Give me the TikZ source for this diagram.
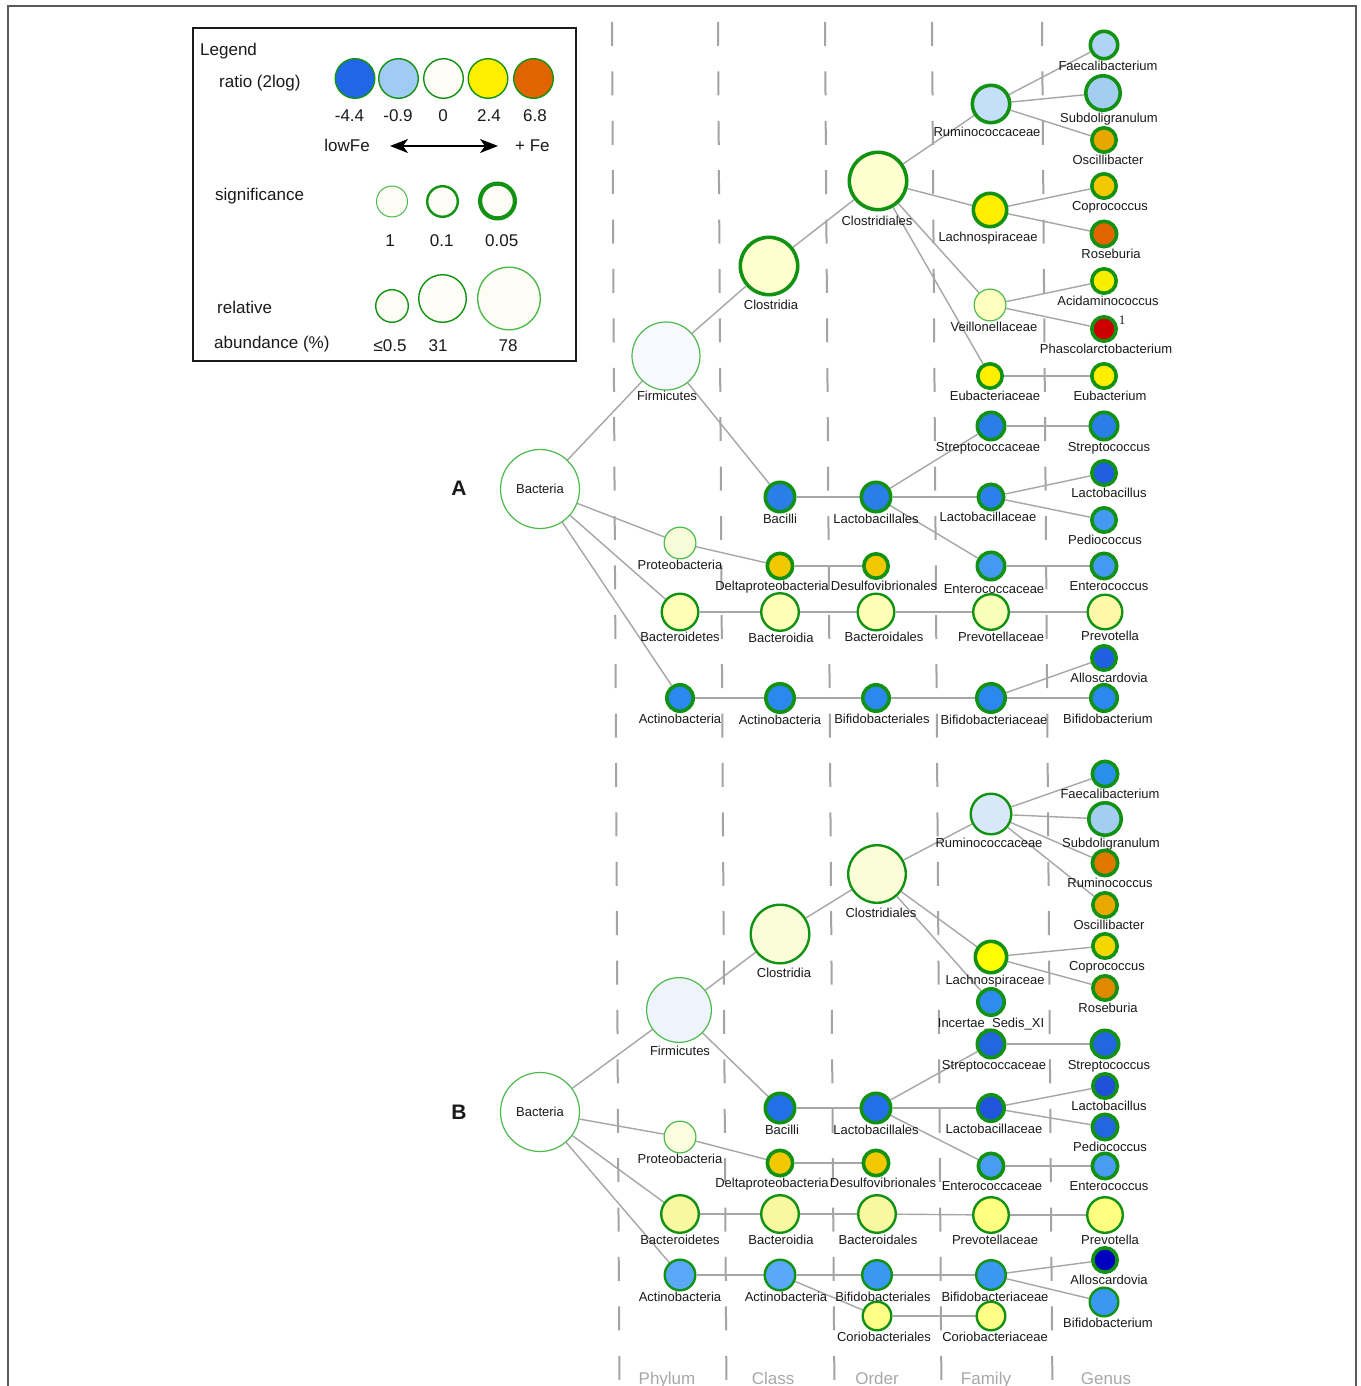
\documentclass[tikz,border=0pt]{standalone}
\usepackage{fontspec}
\setmainfont{Liberation Sans}
\newfontfamily\serifnum{Liberation Serif}
\usetikzlibrary{arrows.meta}
\pgfdeclarelayer{bg}
\pgfsetlayers{bg,main}
\newcommand\lblf{\fontsize{13pt}{15pt}\selectfont}
\newcommand\legf{\fontsize{17pt}{20pt}\selectfont}
\definecolor{grn}{HTML}{129212}
\definecolor{grnl}{HTML}{4CBA4C}
\definecolor{edg}{HTML}{A6A6A6}
\definecolor{dsh}{HTML}{A4A4A4}
\definecolor{txt}{HTML}{1A1A1A}
\definecolor{frm}{HTML}{5A5A5A}
\definecolor{colg}{HTML}{A8A8A8}
% node colours
\definecolor{aFirC}{HTML}{F8F8FF}
\definecolor{cLY}{HTML}{FFFFD0}
\definecolor{aRumC}{HTML}{C4DFF8}
\definecolor{cY}{HTML}{FFEE00}
\definecolor{aVeiC}{HTML}{FFFFC0}
\definecolor{aFaeC}{HTML}{B0D4F5}
\definecolor{cSub}{HTML}{A4CDF2}
\definecolor{aOscC}{HTML}{E6A800}
\definecolor{cGold}{HTML}{F2C800}
\definecolor{aRosC}{HTML}{E06400}
\definecolor{aAciC}{HTML}{F8EE00}
\definecolor{cRed}{HTML}{CC0000}
\definecolor{cBlu}{HTML}{2A7EE8}
\definecolor{aLbFC}{HTML}{2B80EC}
\definecolor{cDB}{HTML}{2060E0}
\definecolor{cMB}{HTML}{4499F0}
\definecolor{aProC}{HTML}{F6FCD8}
\definecolor{aBdC}{HTML}{FFFFB8}
\definecolor{aPvFC}{HTML}{F8FFB8}
\definecolor{aPvGC}{HTML}{FFF8A8}
\definecolor{aAcC}{HTML}{2A88EE}
\definecolor{bFirC}{HTML}{EEF4FC}
\definecolor{bClC}{HTML}{FAFDD8}
\definecolor{bRumC}{HTML}{D8E8F8}
\definecolor{bLacC}{HTML}{FFFF00}
\definecolor{bIncC}{HTML}{2E8CEE}
\definecolor{bFaeC}{HTML}{2890EA}
\definecolor{bRuGC}{HTML}{E07800}
\definecolor{bOscC}{HTML}{E8A800}
\definecolor{bCopC}{HTML}{F2D800}
\definecolor{bRosC}{HTML}{E08800}
\definecolor{bStC}{HTML}{2266E0}
\definecolor{bBciC}{HTML}{2370E8}
\definecolor{bLbC}{HTML}{1F55DC}
\definecolor{bLbGC}{HTML}{1F50D8}
\definecolor{bProC}{HTML}{FAFDDE}
\definecolor{bEnC}{HTML}{4A9CF2}
\definecolor{bBdC}{HTML}{F8F8A0}
\definecolor{bPvC}{HTML}{FFFF80}
\definecolor{bAcC}{HTML}{5AA8F8}
\definecolor{bBfC}{HTML}{3A98F0}
\definecolor{bAllC}{HTML}{0000C0}
\definecolor{bCoC}{HTML}{FFFF88}
\definecolor{legW}{HTML}{FDFDF5}
\definecolor{legB}{HTML}{2266E8}
\definecolor{legLB}{HTML}{A0CCF4}
\definecolor{legO}{HTML}{E06400}
\tikzset{
  tn/.style={circle, draw=grn, inner sep=0pt, font=\lblf, text=txt},
  w1/.style={line width=1.2pt, draw=grnl},
  w2/.style={line width=2.4pt},
  w3/.style={line width=3.6pt},
  lbl/.style={font=\lblf, text=txt, inner sep=0pt, text height=10pt, text depth=3pt},
  every label/.append style={lbl},
  label distance=0pt,
  edge/.style={draw=edg, line width=1.4pt},
  dashln/.style={draw=dsh, line width=2pt, dash pattern=on 24pt off 25.4pt},
  lt/.style={font=\legf, text=txt, inner sep=0pt, anchor=base},
  lc/.style={circle, draw=grn, line width=1.4pt, inner sep=0pt, fill=#1},
  colt/.style={font=\legf, text=colg, inner sep=0pt, anchor=base},
  frame/.style={draw=frm, line width=2pt},
  legbox/.style={draw=txt, line width=2.2pt},
}
\begin{document}
\begin{tikzpicture}[x=1pt,y=-1pt]
\useasboundingbox (0,0) rectangle (1360,1386);
\draw[frame] (7.5,1400) -- (7.5,6.5) -- (1356,6.5) -- (1356,1400);

% ---------- Legend ----------
\draw[legbox] (193,28) rectangle (576,361);
\node[lt, anchor=base west] (tLeg) at (200,56) {Legend};
\node[lt, anchor=base west] (tRat) at (219,88) {ratio (2log)};
\node[lc=legB, minimum size=39.6] (lr1) at (355,78.5) {};
\node[lc=legLB, minimum size=39.6] (lr2) at (398.5,78.5) {};
\node[lc=legW, minimum size=39.6] (lr3) at (443.5,78.5) {};
\node[lc=cY, minimum size=39.6] (lr4) at (488,78.5) {};
\node[lc=legO, minimum size=39.6] (lr5) at (533.5,78.5) {};
\node[lt] (n1) at (349.5,122) {-4.4};
\node[lt] (n2) at (398,122) {-0.9};
\node[lt] (n3) at (443,122) {0};
\node[lt] (n4) at (489,122) {2.4};
\node[lt] (n5) at (535,122) {6.8};
\node[lt, anchor=base east] (tLow) at (370,151) {lowFe};
\node[lt, anchor=base west] (tHigh) at (515,151) {+ Fe};
\coordinate (arL) at (390,146);
\coordinate (arR) at (498,146);
\draw[line width=1.5pt, {Stealth[length=18pt,width=14pt,inset=5pt]}-{Stealth[length=18pt,width=14pt,inset=5pt]}] (arL) -- (arR);
\node[lt, anchor=base west] (tSig) at (215,200) {significance};
\node[lc=legW, line width=1pt, draw=grnl, minimum size=31] (ls1) at (392,201.5) {};
\node[lc=legW, line width=2.4pt, minimum size=30.6] (ls2) at (442.5,201.5) {};
\node[lc=legW, line width=4.2pt, minimum size=34.8] (ls3) at (497.5,201) {};
\node[lt] (s1) at (390,246) {1};
\node[lt] (s2) at (441.7,246) {0.1};
\node[lt] (s3) at (501.7,246) {0.05};
\node[lt, anchor=base west] (tRel) at (217,313) {relative};
\node[lt, anchor=base west] (tAbu) at (214,348) {abundance (\%)};
\node[lc=legW, minimum size=32.6] (la1) at (392,306) {};
\node[lc=legW, minimum size=47.6] (la2) at (442.5,298.5) {};
\node[lc=legW, draw=grnl, minimum size=62.6] (la3) at (509,298.5) {};
\node[lt] (a1) at (390,351) {≤0.5};
\node[lt] (a2) at (438,351) {31};
\node[lt] (a3) at (508,351) {78};

% ---------- Panel letters ----------
\node[font=\fontsize{21pt}{24pt}\selectfont\bfseries, text=txt] (pA) at (459,488) {A};
\node[font=\fontsize{21pt}{24pt}\selectfont\bfseries, text=txt] (pB) at (459,1112) {B};

% ---------- Panel A nodes ----------
\node[tn,w1,fill=white,minimum size=79] (aBac) at (540,489) {Bacteria};
\node[tn,w1,fill=aFirC,minimum size=68,label={[xshift=1pt]below:Firmicutes}] (aFir) at (666,356) {};
\node[tn,w3,fill=cLY,minimum size=57.4,label={[xshift=2pt,yshift=-3pt]below:Clostridia}] (aCla) at (769,266) {};
\node[tn,w3,fill=cLY,minimum size=57.4,label={[xshift=-1pt,yshift=-4pt]below:Clostridiales}] (aOrd) at (878,181) {};
\node[tn,w3,fill=aRumC,minimum size=37.4,label={[xshift=-4pt,yshift=-2pt]below:Ruminococcaceae}] (aRum) at (991,104) {};
\node[tn,w3,fill=cY,minimum size=33.4,label={[xshift=-2pt,yshift=-3pt]below:Lachnospiraceae}] (aLac) at (990,210) {};
\node[tn,w1,fill=aVeiC,minimum size=31.8,label={[xshift=4pt]below:Veillonellaceae}] (aVei) at (990,305) {};
\node[tn,w3,fill=cY,minimum size=24.4,label={[xshift=5pt]below:Eubacteriaceae}] (aEubF) at (990,376) {};
\node[tn,w3,fill=aFaeC,minimum size=27.4,label={[xshift=4pt]below:Faecalibacterium}] (aFae) at (1104,45) {};
\node[tn,w3,fill=cSub,minimum size=34.4,label={[xshift=6pt]below:Subdoligranulum}] (aSub) at (1103,93) {};
\node[tn,w3,fill=aOscC,minimum size=24.4,label={[xshift=4pt]below:Oscillibacter}] (aOsc) at (1104,140) {};
\node[tn,w3,fill=cGold,minimum size=24.4,label={[xshift=6pt]below:Coprococcus}] (aCop) at (1104,186) {};
\node[tn,w3,fill=aRosC,minimum size=25.4,label={[xshift=7pt]below:Roseburia}] (aRos) at (1104,234) {};
\node[tn,w3,fill=aAciC,minimum size=24.4,label={[xshift=4pt]below:Acidaminococcus}] (aAci) at (1104,281) {};
\node[tn,w3,fill=cRed,minimum size=24.4,label={[xshift=2pt]below:Phascolarctobacterium}] (aPha) at (1104,329) {};
\node[font=\serifnum\fontsize{13pt}{15pt}\selectfont, text=txt, inner sep=0pt] (aPhaSup) at (1122,320) {1};
\node[tn,w3,fill=cY,minimum size=24.4,label={[xshift=6pt]below:Eubacterium}] (aEub) at (1104,376) {};
\node[tn,w3,fill=cBlu,minimum size=27.4,label={[xshift=-3pt]below:Streptococcaceae}] (aStF) at (991,426) {};
\node[tn,w3,fill=cBlu,minimum size=27.4,label={[xshift=5pt]below:Streptococcus}] (aStr) at (1104,426) {};
\node[tn,w3,fill=cBlu,minimum size=29.4,label={below:Bacilli}] (aBci) at (780,497) {};
\node[tn,w3,fill=cBlu,minimum size=29.4,label={below:Lactobacillales}] (aLbl) at (876,497) {};
\node[tn,w3,fill=aLbFC,minimum size=25.4,label={[xshift=-3pt]below:Lactobacillaceae}] (aLbF) at (991,497) {};
\node[tn,w3,fill=cDB,minimum size=24.4,label={[xshift=5pt]below:Lactobacillus}] (aLbG) at (1104,473) {};
\node[tn,w3,fill=cMB,minimum size=24.4,label={[xshift=1pt]below:Pediococcus}] (aPed) at (1104,520) {};
\node[tn,w1,fill=aProC,minimum size=31.8,label={below:Proteobacteria}] (aPro) at (680,543) {};
\node[tn,w3,fill=cGold,minimum size=25.4,label={[xshift=-8pt]below:Deltaproteobacteria}] (aDel) at (780,566) {};
\node[tn,w3,fill=cGold,minimum size=24.4,label={[xshift=8pt]below:Desulfovibrionales}] (aDes) at (876,566) {};
\node[tn,w3,fill=cMB,minimum size=27.4,label={[xshift=3pt,yshift=-2pt]below:Enterococcaceae}] (aEnF) at (991,566) {};
\node[tn,w3,fill=cMB,minimum size=25.4,label={[xshift=5pt]below:Enterococcus}] (aEnG) at (1104,566) {};
\node[tn,w2,fill=aBdC,minimum size=36.6,label={below:Bacteroidetes}] (aBdP) at (680,612) {};
\node[tn,w2,fill=aBdC,minimum size=37.6,label={[xshift=1pt]below:Bacteroidia}] (aBdC) at (780,612) {};
\node[tn,w2,fill=aBdC,minimum size=36.6,label={[xshift=8pt]below:Bacteroidales}] (aBdO) at (876,612) {};
\node[tn,w2,fill=aPvFC,minimum size=35.6,label={[xshift=10pt]below:Prevotellaceae}] (aPvF) at (991,612) {};
\node[tn,w2,fill=aPvGC,minimum size=34.6,label={[xshift=5pt]below:Prevotella}] (aPvG) at (1105,612) {};
\node[tn,w3,fill=cDB,minimum size=24.4,label={[xshift=5pt]below:Alloscardovia}] (aAll) at (1104,658) {};
\node[tn,w3,fill=aAcC,minimum size=26.4,label={below:Actinobacteria}] (aAcP) at (680,698) {};
\node[tn,w3,fill=aAcC,minimum size=28.4,label={below:Actinobacteria}] (aAcC) at (780,698) {};
\node[tn,w3,fill=aAcC,minimum size=26.4,label={[xshift=6pt]below:Bifidobacteriales}] (aBfO) at (876,698) {};
\node[tn,w3,fill=aAcC,minimum size=28.4,label={[xshift=3pt]below:Bifidobacteriaceae}] (aBfF) at (991,698) {};
\node[tn,w3,fill=aAcC,minimum size=26.4,label={[xshift=4pt]below:Bifidobacterium}] (aBfG) at (1104,698) {};

% ---------- Panel B nodes ----------
\node[tn,w1,fill=white,minimum size=79] (bBac) at (540,1112) {Bacteria};
\node[tn,w1,fill=bFirC,minimum size=64.8,label={[xshift=1pt,yshift=-2pt]below:Firmicutes}] (bFir) at (679,1010) {};
\node[tn,w2,fill=bClC,minimum size=58.6,label={[xshift=4pt,yshift=-3pt]below:Clostridia}] (bCla) at (780,934) {};
\node[tn,w2,fill=bClC,minimum size=57.6,label={[xshift=4pt,yshift=-3pt]below:Clostridiales}] (bOrd) at (877,874) {};
\node[tn,w2,fill=bRumC,minimum size=40.6,label={[xshift=-2pt,yshift=-2pt]below:Ruminococcaceae}] (bRum) at (991,814) {};
\node[tn,w3,fill=bLacC,minimum size=31.4,label={[xshift=4pt]below:Lachnospiraceae}] (bLac) at (991,957) {};
\node[tn,w3,fill=bIncC,minimum size=26.4,label={below:Incertae\_Sedis\_XI}] (bInc) at (991,1002) {};
\node[tn,w3,fill=bFaeC,minimum size=25.4,label={[xshift=5pt]below:Faecalibacterium}] (bFae) at (1105,774) {};
\node[tn,w3,fill=cSub,minimum size=32.4,label={[xshift=6pt]below:Subdoligranulum}] (bSub) at (1105,819) {};
\node[tn,w3,fill=bRuGC,minimum size=25.4,label={[xshift=5pt]below:Ruminococcus}] (bRuG) at (1105,863) {};
\node[tn,w3,fill=bOscC,minimum size=24.4,label={[xshift=4pt]below:Oscillibacter}] (bOsc) at (1105,905) {};
\node[tn,w3,fill=bCopC,minimum size=24.4,label={[xshift=2pt]below:Coprococcus}] (bCop) at (1105,946) {};
\node[tn,w3,fill=bRosC,minimum size=24.4,label={[xshift=3pt]below:Roseburia}] (bRos) at (1105,988) {};
\node[tn,w3,fill=bStC,minimum size=27.4,label={[xshift=3pt]below:Streptococcaceae}] (bStF) at (991,1044) {};
\node[tn,w3,fill=bStC,minimum size=27.4,label={[xshift=4pt]below:Streptococcus}] (bStr) at (1105,1044) {};
\node[tn,w3,fill=bBciC,minimum size=29.4,label={[xshift=2pt]below:Bacilli}] (bBci) at (780,1108) {};
\node[tn,w3,fill=bBciC,minimum size=29.4,label={below:Lactobacillales}] (bLbl) at (876,1108) {};
\node[tn,w3,fill=bLbC,minimum size=26.4,label={[xshift=3pt]below:Lactobacillaceae}] (bLbF) at (991,1108) {};
\node[tn,w3,fill=bLbGC,minimum size=24.4,label={[xshift=4pt]below:Lactobacillus}] (bLbG) at (1105,1086) {};
\node[tn,w3,fill=bStC,minimum size=25.4,label={[xshift=5pt]below:Pediococcus}] (bPed) at (1105,1127) {};
\node[tn,w1,fill=bProC,minimum size=31.8,label={below:Proteobacteria}] (bPro) at (680,1137) {};
\node[tn,w3,fill=cGold,minimum size=25.4,label={[xshift=-8pt]below:Deltaproteobacteria}] (bDel) at (780,1163) {};
\node[tn,w3,fill=cGold,minimum size=25.4,label={[xshift=7pt]below:Desulfovibrionales}] (bDes) at (876,1163) {};
\node[tn,w3,fill=bEnC,minimum size=25.4,label={[xshift=1pt]below:Enterococcaceae}] (bEnF) at (991,1166) {};
\node[tn,w3,fill=bEnC,minimum size=25.4,label={[xshift=4pt]below:Enterococcus}] (bEnG) at (1105,1166) {};
\node[tn,w2,fill=bBdC,minimum size=37.6,label={below:Bacteroidetes}] (bBdP) at (680,1214) {};
\node[tn,w2,fill=bBdC,minimum size=37.6,label={[xshift=1pt]below:Bacteroidia}] (bBdC) at (780,1214) {};
\node[tn,w2,fill=bBdC,minimum size=37.6,label={[xshift=1pt]below:Bacteroidales}] (bBdO) at (877,1214) {};
\node[tn,w2,fill=bPvC,minimum size=35.6,label={[xshift=4pt]below:Prevotellaceae}] (bPvF) at (991,1215) {};
\node[tn,w2,fill=bPvC,minimum size=35.6,label={[xshift=5pt]below:Prevotella}] (bPvG) at (1105,1215) {};
\node[tn,w2,fill=bAcC,minimum size=30.6,label={below:Actinobacteria}] (bAcP) at (680,1275) {};
\node[tn,w2,fill=bAcC,minimum size=30.6,label={[xshift=6pt]below:Actinobacteria}] (bAcC) at (780,1275) {};
\node[tn,w2,fill=bBfC,minimum size=29.6,label={[xshift=6pt]below:Bifidobacteriales}] (bBfO) at (877,1275) {};
\node[tn,w2,fill=bBfC,minimum size=29.6,label={[xshift=4pt]below:Bifidobacteriaceae}] (bBfF) at (991,1275) {};
\node[tn,w3,fill=bAllC,minimum size=24.4,label={[xshift=4pt]below:Alloscardovia}] (bAll) at (1105,1260) {};
\node[tn,w2,fill=bBfC,minimum size=28.6,label={[xshift=4pt]below:Bifidobacterium}] (bBfG) at (1104,1302) {};
\node[tn,w2,fill=bCoC,minimum size=28.6,label={[xshift=7pt]below:Coriobacteriales}] (bCoO) at (877,1316) {};
\node[tn,w2,fill=bCoC,minimum size=28.6,label={[xshift=4pt]below:Coriobacteriaceae}] (bCoF) at (991,1316) {};

% ---------- column labels ----------
\node[colt] (cPhy) at (667,1384) {Phylum};
\node[colt] (cCla) at (773,1384) {Class};
\node[colt] (cOrd) at (877,1384) {Order};
\node[colt] (cFam) at (986,1384) {Family};
\node[colt] (cGen) at (1106,1384) {Genus};

\begin{pgfonlayer}{bg}
\fill[white] (0,0) rectangle (1360,1386);
% dashed rank separators
\draw[dashln] (612,22) -- (619.5,1400);
\draw[dashln] (718,22) -- (726.5,1400);
\draw[dashln] (825,22) -- (834.5,1400);
\draw[dashln] (932,22) -- (941.5,1400);
\draw[dashln] (1042,22) -- (1052.5,1400);
% edges A
\foreach \s/\t in {aBac/aFir, aFir/aCla, aCla/aOrd, aOrd/aRum, aOrd/aLac, aOrd/aVei, aOrd/aEubF,
  aRum/aFae, aRum/aSub, aRum/aOsc, aLac/aCop, aLac/aRos, aVei/aAci, aVei/aPha, aEubF/aEub,
  aFir/aBci, aBci/aLbl, aLbl/aStF, aLbl/aLbF, aLbl/aEnF, aStF/aStr, aLbF/aLbG, aLbF/aPed, aEnF/aEnG,
  aBac/aPro, aPro/aDel, aDel/aDes, aBac/aBdP, aBdP/aBdC, aBdC/aBdO, aBdO/aPvF, aPvF/aPvG,
  aBac/aAcP, aAcP/aAcC, aAcC/aBfO, aBfO/aBfF, aBfF/aAll, aBfF/aBfG}
  \draw[edge] (\s) -- (\t);
% edges B
\foreach \s/\t in {bBac/bFir, bFir/bCla, bCla/bOrd, bOrd/bRum, bOrd/bLac, bOrd/bInc,
  bRum/bFae, bRum/bSub, bRum/bRuG, bRum/bOsc, bLac/bCop, bLac/bRos,
  bFir/bBci, bBci/bLbl, bLbl/bStF, bLbl/bLbF, bLbl/bEnF, bStF/bStr, bLbF/bLbG, bLbF/bPed, bEnF/bEnG,
  bBac/bPro, bPro/bDel, bDel/bDes, bBac/bBdP, bBdP/bBdC, bBdC/bBdO, bBdO/bPvF, bPvF/bPvG,
  bBac/bAcP, bAcP/bAcC, bAcC/bBfO, bBfO/bBfF, bBfF/bAll, bBfF/bBfG, bAcC/bCoO, bCoO/bCoF}
  \draw[edge] (\s) -- (\t);
\end{pgfonlayer}
\end{tikzpicture}
\end{document}
